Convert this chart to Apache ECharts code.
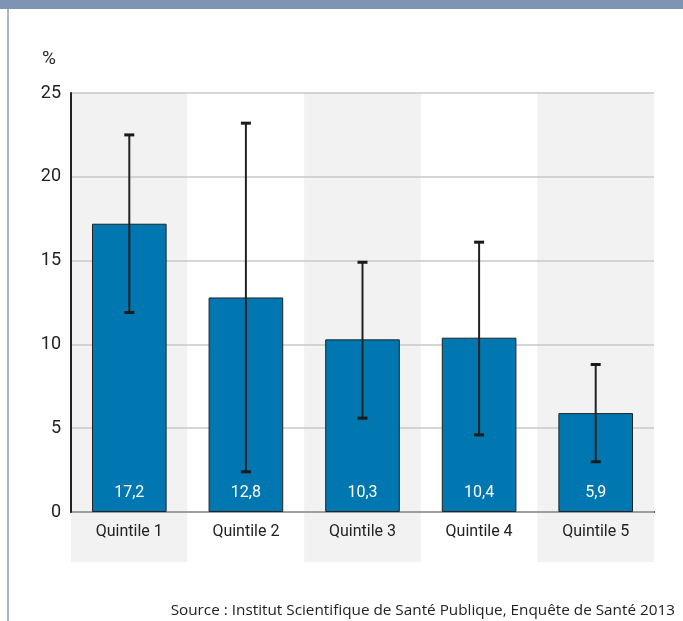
<!DOCTYPE html>
<html>
<head>
<meta charset="utf-8">
<script src="https://cdn.jsdelivr.net/npm/echarts@6/dist/echarts.min.js"></script>
<style>
  html, body { margin: 0; padding: 0; background: #fff; }
  #main { width: 683px; height: 621px; }
</style>
</head>
<body>
<div id="main"></div>
<script>
// quintiles de revenu, % avec intervalle de confiance
var categories = ["Quintile 1", "Quintile 2", "Quintile 3", "Quintile 4", "Quintile 5"];
var values = [17.2, 12.8, 10.3, 10.4, 5.9];
var ciLow = [11.9, 2.4, 5.6, 4.6, 3.0];
var ciHigh = [22.5, 23.2, 14.9, 16.1, 8.8];
var yTicks = [0, 5, 10, 15, 20, 25];

var font = "'Liberation Sans Narrow', 'Roboto', sans-serif";

var errData = [];
for (var i = 0; i < categories.length; i++) {
  errData.push([i, ciLow[i], ciHigh[i]]);
}

var chart = echarts.init(document.getElementById("main"));

var option = {
  animation: false,
  backgroundColor: "#fff",
  title: [
    {
      text: "%",
      left: 37,
      top: 45,
      textStyle: { fontFamily: font, fontSize: 19, fontWeight: "normal", color: "#222" }
    },
    {
      text: "Source : Institut Scientifique de Santé Publique, Enquête de Santé 2013",
      right: 3,
      top: 598,
      textStyle: { fontFamily: "'Open Sans', sans-serif", fontSize: 15.3, fontWeight: "normal", color: "#222" }
    }
  ],
  graphic: [
    { type: "rect", shape: { x: 0, y: 0, width: 683, height: 9 }, style: { fill: "#7f94b5" } },
    { type: "rect", shape: { x: 7, y: 9, width: 2, height: 612 }, style: { fill: "#a7b6d0" } }
  ],
  grid: [
    { left: 71, right: 29, top: 93, bottom: 109 },
    { left: 71, right: 29, top: 512, height: 50 }
  ],
  xAxis: [
    {
      type: "category",
      gridIndex: 0,
      data: categories,
      axisLine: { lineStyle: { color: "#222", width: 2 } },
      axisTick: { show: false },
      axisLabel: { fontFamily: font, fontSize: 16, color: "#222", margin: 12 },
      splitArea: { show: true, areaStyle: { color: ["#f2f2f2", "#ffffff"] } },
      z: 0
    },
    {
      type: "category",
      gridIndex: 1,
      data: categories,
      axisLine: { show: false },
      axisTick: { show: false },
      axisLabel: { show: false },
      splitArea: { show: true, areaStyle: { color: ["#f2f2f2", "#ffffff"] } },
      z: 0
    }
  ],
  yAxis: [
    {
      type: "value",
      gridIndex: 0,
      min: 0,
      max: 25,
      interval: 5,
      axisLine: { show: true, lineStyle: { color: "#222", width: 2 } },
      axisTick: { show: false },
      axisLabel: {
        fontFamily: font, fontSize: 18, color: "#222", margin: 10,
        formatter: function (v) { return yTicks.indexOf(v) >= 0 ? String(v) : ""; }
      },
      splitLine: { lineStyle: { color: "#c8c8c8", width: 1.5 } },
      z: 1
    },
    {
      type: "value",
      gridIndex: 1,
      show: false
    }
  ],
  series: [
    {
      type: "bar",
      xAxisIndex: 0,
      yAxisIndex: 0,
      data: values,
      barWidth: "64%",
      itemStyle: { color: "#0077b0", borderColor: "#222", borderWidth: 1 },
      label: {
        show: true,
        position: "insideBottom",
        distance: 11,
        color: "#fff",
        fontFamily: font,
        fontSize: 16,
        formatter: function (p) { return String(p.value).replace(".", ","); }
      },
      z: 2
    },
    {
      type: "custom",
      xAxisIndex: 0,
      yAxisIndex: 0,
      data: errData,
      z: 10,
      renderItem: function (params, api) {
        var x = api.value(0);
        var lo = api.coord([x, api.value(1)]);
        var hi = api.coord([x, api.value(2)]);
        var hw = 5;
        return {
          type: "group",
          children: [
            { type: "line", shape: { x1: lo[0], y1: lo[1], x2: hi[0], y2: hi[1] }, style: { stroke: "#222", lineWidth: 2 } },
            { type: "line", shape: { x1: hi[0] - hw, y1: hi[1], x2: hi[0] + hw, y2: hi[1] }, style: { stroke: "#1a1a1a", lineWidth: 3 } },
            { type: "line", shape: { x1: lo[0] - hw, y1: lo[1], x2: lo[0] + hw, y2: lo[1] }, style: { stroke: "#1a1a1a", lineWidth: 3 } }
          ]
        };
      }
    }
  ]
};

chart.setOption(option);
</script>
</body>
</html>
